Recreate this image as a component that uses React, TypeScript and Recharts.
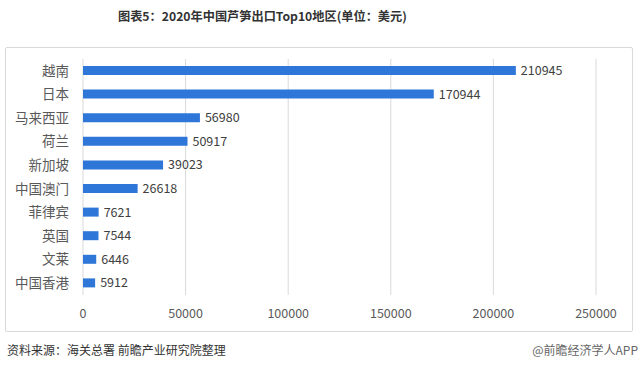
import React from "react";
import { BarChart, Bar, XAxis, YAxis, CartesianGrid, LabelList } from "recharts";

const regions = ["越南", "日本", "马来西亚", "荷兰", "新加坡", "中国澳门", "菲律宾", "英国", "文莱", "中国香港"];
const values = [210945, 170944, 56980, 50917, 39023, 26618, 7621, 7544, 6446, 5912];
const xTicks = [0, 50000, 100000, 150000, 200000, 250000];

const data = regions.map((name, i) => ({ name, value: values[i] }));

const FONT = '"Noto Sans CJK SC", "Noto Sans", sans-serif';

export default function App() {
  return (
    <div style={{ position: "absolute", left: 0, top: 0, width: 640, height: 370, background: "#fff", fontFamily: FONT }}>
      <div style={{ position: "absolute", left: 118, top: 7, whiteSpace: "nowrap", fontSize: 12.2, fontWeight: 700, color: "#333" }}>
        图表5：2020年中国芦笋出口Top10地区(单位：美元)
      </div>
      <div style={{ position: "absolute", left: 5, top: 47, width: 626, height: 283, border: "1px solid #d9d9d9", borderRadius: 2 }} />
      <div style={{ position: "absolute", left: 0, top: 0 }}>
        <BarChart width={640} height={370} data={data} layout="vertical" margin={{ top: 59, right: 44, bottom: 45, left: 5 }} barCategoryGap="30%">
          <CartesianGrid horizontal={false} vertical={true} stroke="#d9d9d9" />
          <XAxis
            type="number"
            domain={[0, 250000]}
            ticks={xTicks}
            tickLine={false}
            axisLine={false}
            height={30}
            tick={{ fontSize: 12.5, fill: "#595959", fontFamily: FONT }}
            tickMargin={8}
            interval={0}
          />
          <YAxis
            type="category"
            dataKey="name"
            width={78}
            tickLine={false}
            axisLine={false}
            tick={{ fontSize: 13.5, fill: "#595959", fontFamily: FONT }}
            tickMargin={8}
            interval={0}
          />
          <Bar dataKey="value" fill="#2f76d9" barSize={9} isAnimationActive={false}>
            <LabelList dataKey="value" position="right" offset={5} style={{ fontSize: 12.5, fill: "#404040", fontFamily: FONT }} />
          </Bar>
        </BarChart>
      </div>
      <div style={{ position: "absolute", left: 7, top: 341, fontSize: 12, color: "#333" }}>
        资料来源：海关总署 前瞻产业研究院整理
      </div>
      <div style={{ position: "absolute", right: 2, top: 341, fontSize: 12, color: "#666" }}>
        @前瞻经济学人APP
      </div>
    </div>
  );
}
